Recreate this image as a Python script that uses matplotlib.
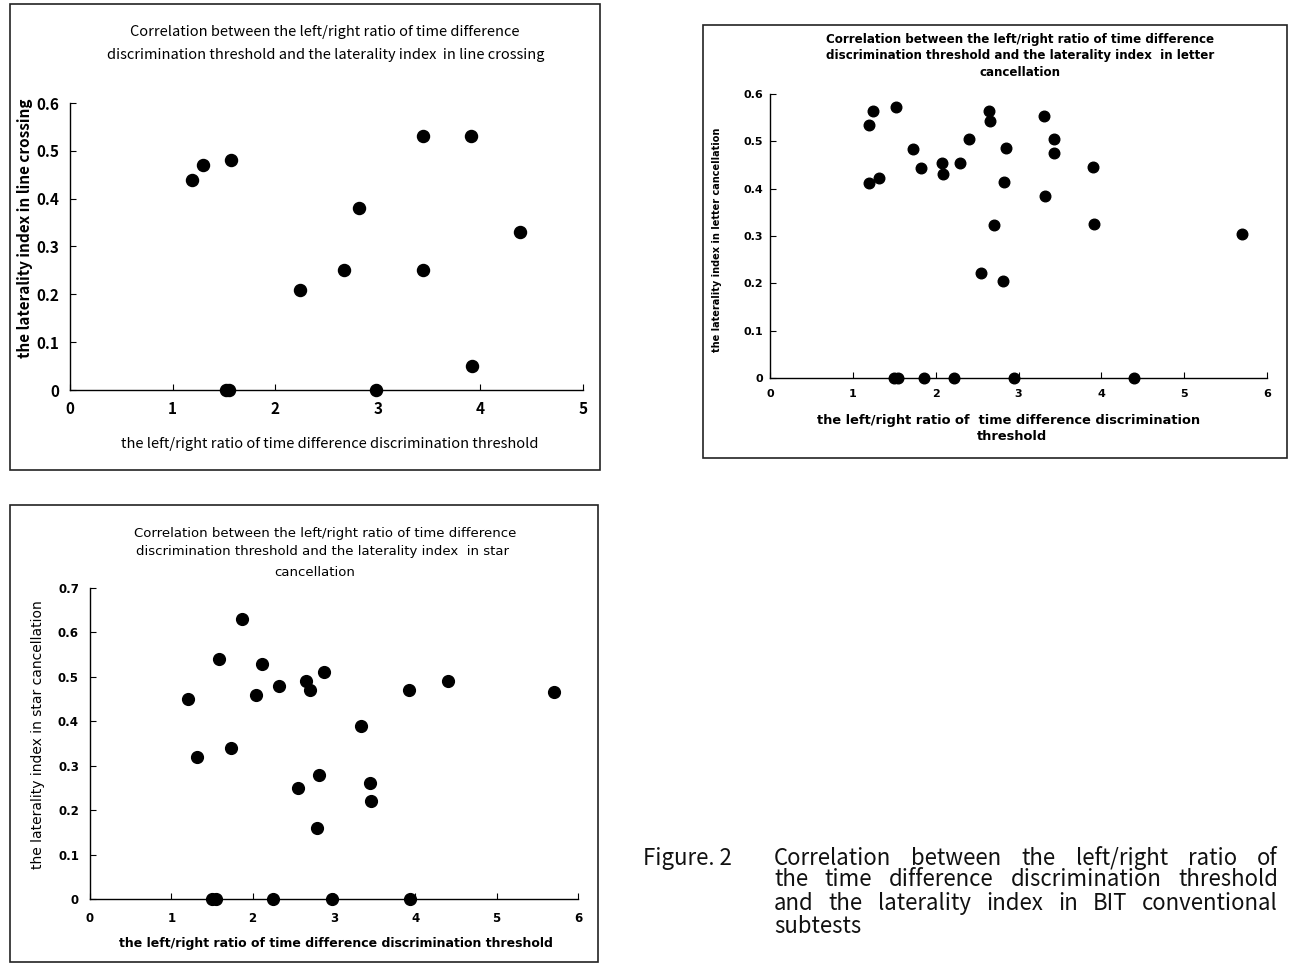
import matplotlib
matplotlib.use("Agg")
import matplotlib.pyplot as plt
from matplotlib.patches import Rectangle

W, H = 1291, 963

# ratio (x) and laterality index (y)
line_x = [1.19, 1.30, 1.57, 1.52, 1.55, 2.24, 2.67, 2.82, 2.98, 3.44, 3.44, 3.91, 3.92, 4.39]
line_y = [0.44, 0.47, 0.48, 0.0, 0.0, 0.21, 0.25, 0.38, 0.0, 0.53, 0.25, 0.53, 0.05, 0.33]

letter_x = [1.19, 1.24, 1.20, 1.32, 1.52, 1.50, 1.54, 1.73, 1.82, 1.86, 2.08, 2.09, 2.22,
            2.29, 2.40, 2.55, 2.64, 2.65, 2.70, 2.81, 2.82, 2.85, 2.95, 3.31, 3.32, 3.43,
            3.43, 3.90, 3.91, 4.40, 5.70]
letter_y = [0.534, 0.564, 0.413, 0.423, 0.573, 0.0, 0.0, 0.484, 0.444, 0.0, 0.454, 0.432, 0.0,
            0.454, 0.505, 0.222, 0.565, 0.544, 0.324, 0.204, 0.415, 0.485, 0.0, 0.554, 0.385,
            0.505, 0.475, 0.445, 0.325, 0.0, 0.304]

star_x = [1.20, 1.31, 1.58, 1.50, 1.55, 1.73, 1.87, 2.04, 2.11, 2.25, 2.32, 2.56, 2.66, 2.70,
          2.79, 2.82, 2.88, 2.98, 3.33, 3.44, 3.46, 3.92, 3.94, 4.40, 5.70]
star_y = [0.45, 0.32, 0.54, 0.0, 0.0, 0.34, 0.63, 0.46, 0.53, 0.0, 0.48, 0.25, 0.49, 0.47,
          0.16, 0.28, 0.51, 0.0, 0.39, 0.26, 0.22, 0.47, 0.0, 0.49, 0.465]

line_yticks = [0, 0.1, 0.2, 0.3, 0.4, 0.5, 0.6]
letter_yticks = [0, 0.1, 0.2, 0.3, 0.4, 0.5, 0.6]
star_yticks = [0, 0.1, 0.2, 0.3, 0.4, 0.5, 0.6, 0.7]

GOTHIC = ["Noto Sans CJK JP", "DejaVu Sans"]
WIDE = ["DejaVu Sans"]
plt.rcParams["font.family"] = GOTHIC


def fx(x):
    return x / W


def fy(y):
    return 1 - y / H


def px_axes(fig, x0, y0, x1, y1):
    return fig.add_axes([fx(x0), fy(y1), (x1 - x0) / W, (y1 - y0) / H])


def frame(fig, x0, y0, x1, y1):
    fig.patches.append(Rectangle((fx(x0), fy(y1)), (x1 - x0) / W, (y1 - y0) / H,
                                 transform=fig.transFigure, fill=False,
                                 edgecolor="#222222", linewidth=1.2))


def style(ax, xmax, ymax, yticks, fam, size, weight, ypad, xpad):
    ax.set_xlim(0, xmax)
    ax.set_ylim(0, ymax)
    ax.set_xticks(range(xmax + 1))
    ax.set_yticks(yticks)
    ax.set_yticklabels(["0" if t == 0 else f"{t:.1f}" for t in yticks])
    for s in ("top", "right"):
        ax.spines[s].set_visible(False)
    for s in ("left", "bottom"):
        ax.spines[s].set_linewidth(1.0)
    ax.tick_params(direction="in", length=4, width=0.8)
    ax.tick_params(axis="y", pad=ypad)
    ax.tick_params(axis="x", pad=xpad)
    for lab in ax.get_xticklabels() + ax.get_yticklabels():
        lab.set_family(fam)
        lab.set_fontsize(size)
        lab.set_fontweight(weight)
    ax.patch.set_alpha(0)


def justify(fig, renderer, text, x0, x1, y, **kw):
    words = text.split()
    objs = [fig.text(0, fy(y), w, va="center", ha="left", **kw) for w in words]
    widths = [o.get_window_extent(renderer).width for o in objs]
    gap = (x1 - x0 - sum(widths)) / (len(words) - 1)
    x = x0
    for o, w in zip(objs, widths):
        o.set_x(fx(x))
        x += w + gap


fig = plt.figure(figsize=(W / 100, H / 100), dpi=100)

# ---- line crossing
frame(fig, 10, 4, 600, 470)
ax1 = px_axes(fig, 70, 103, 583, 390)
ax1.scatter(line_x, line_y, s=75, color="black", clip_on=False, zorder=3)
style(ax1, 5, 0.6, line_yticks, GOTHIC, 11, "bold", 8, 8)
fig.text(fx(325), fy(32), "Correlation between the left/right ratio of time difference",
         ha="center", va="center", fontsize=10.5)
fig.text(fx(326), fy(55), "discrimination threshold and the laterality index  in line crossing",
         ha="center", va="center", fontsize=10.5)
fig.text(fx(330), fy(444), "the left/right ratio of time difference discrimination threshold",
         ha="center", va="center", fontsize=10.5)
fig.text(fx(25), fy(228), "the laterality index in line crossing", rotation=90,
         ha="center", va="center", fontsize=11, fontweight="bold")

# ---- letter cancellation
frame(fig, 703, 25, 1287, 458)
ax2 = px_axes(fig, 770, 94, 1267, 378)
ax2.scatter(letter_x, letter_y, s=58, color="black", clip_on=False, zorder=3)
style(ax2, 6, 0.6, letter_yticks, WIDE, 8, "bold", 5, 8)
for txt, yy in [("Correlation between the left/right ratio of time difference", 40),
                ("discrimination threshold and the laterality index  in letter", 56),
                ("cancellation", 72)]:
    fig.text(fx(1020), fy(yy), txt, ha="center", va="center", fontsize=8.6,
             fontweight="bold", family=WIDE)
fig.text(fx(1009), fy(420), "the left/right ratio of  time difference discrimination",
         ha="center", va="center", fontsize=9.4, fontweight="bold", family=WIDE)
fig.text(fx(1012), fy(437), "threshold", ha="center", va="center", fontsize=9.4,
         fontweight="bold", family=WIDE)
fig.text(fx(717), fy(240), "the laterality index in letter cancellation", rotation=90,
         ha="center", va="center", fontsize=7, fontweight="bold", family=WIDE)

# ---- star cancellation
frame(fig, 10, 505, 598, 962)
ax3 = px_axes(fig, 90, 588, 578, 899)
ax3.scatter(star_x, star_y, s=72, color="black", clip_on=False, zorder=3)
style(ax3, 6, 0.7, star_yticks, WIDE, 8.5, "bold", 8, 9)
for txt, yy, xx in [("Correlation between the left/right ratio of time difference", 533, 325),
                    ("discrimination threshold and the laterality index  in star", 552, 323),
                    ("cancellation", 572, 315)]:
    fig.text(fx(xx), fy(yy), txt, ha="center", va="center", fontsize=9.5, family=WIDE)
fig.text(fx(336), fy(943), "the left/right ratio of time difference discrimination threshold",
         ha="center", va="center", fontsize=9, fontweight="bold", family=WIDE)
fig.text(fx(38), fy(735), "the laterality index in star cancellation", rotation=90,
         ha="center", va="center", fontsize=10, family=WIDE)

# ---- caption
renderer = fig.canvas.get_renderer()
cap = dict(fontsize=16, color="#111111")
fig.text(fx(643), fy(858), "Figure. 2", va="center", ha="left", **cap)
justify(fig, renderer, "Correlation between the left/right ratio of", 774, 1278, 858, **cap)
justify(fig, renderer, "the time difference discrimination threshold", 774, 1278, 880, **cap)
justify(fig, renderer, "and the laterality index in BIT conventional", 774, 1278, 903, **cap)
fig.text(fx(774), fy(926), "subtests", va="center", ha="left", **cap)

fig.savefig("out.png", dpi=100, facecolor="white")
